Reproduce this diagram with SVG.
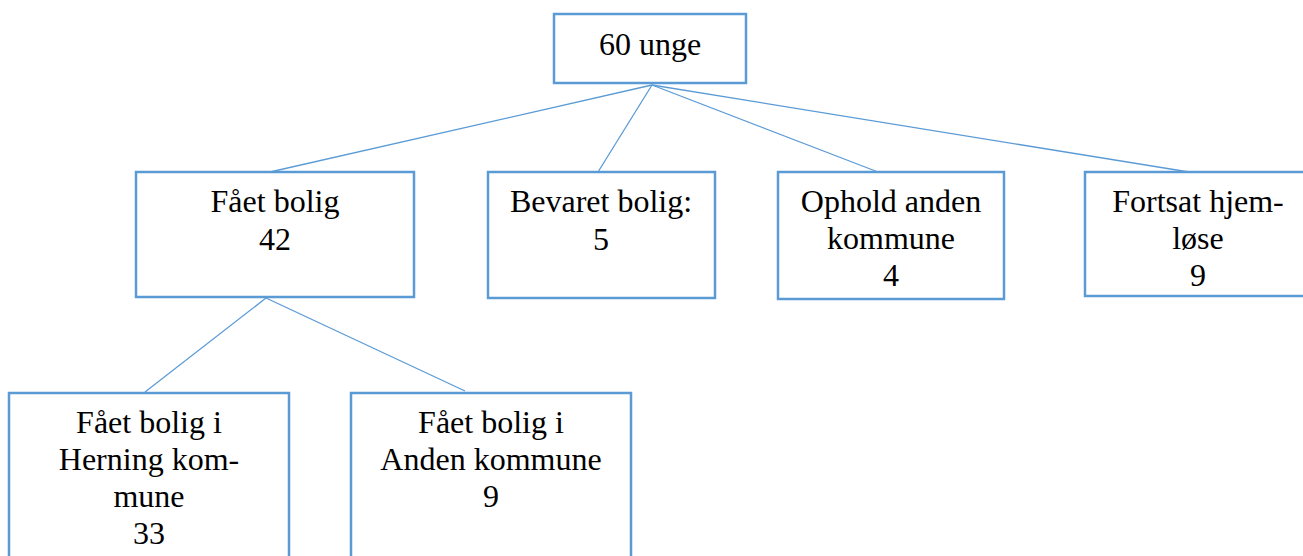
<svg xmlns="http://www.w3.org/2000/svg" width="1303" height="556" viewBox="0 0 1303 556">
<style>
.box{fill:#ffffff;stroke:#5B9BD5;stroke-width:2.5}
.t{font-family:"Liberation Serif","Times New Roman",serif;font-size:32px;fill:#000000;text-anchor:middle}
.c{stroke:#5B9BD5;stroke-width:1.3;fill:none}
</style>
<rect width="1303" height="556" fill="#ffffff"/>
<g id="connectors">
<line class="c" x1="652" y1="85" x2="270" y2="172"/>
<line class="c" x1="652" y1="85" x2="598" y2="172"/>
<line class="c" x1="652" y1="85" x2="878" y2="172"/>
<line class="c" x1="652" y1="85" x2="1189" y2="172"/>
<line class="c" x1="266" y1="298" x2="145" y2="392"/>
<line class="c" x1="266" y1="298" x2="465" y2="391"/>
</g>
<g id="n-root">
<rect class="box" x="554" y="14" width="192" height="69"/>
<text class="t" x="650" y="55">60 unge</text>
</g>
<g id="n-faaet">
<rect class="box" x="136" y="172" width="278" height="125"/>
<text class="t" x="275" y="212">Fået bolig</text>
<text class="t" x="275" y="250">42</text>
</g>
<g id="n-bevaret">
<rect class="box" x="488" y="172" width="227" height="126"/>
<text class="t" x="601" y="212">Bevaret bolig:</text>
<text class="t" x="601" y="250">5</text>
</g>
<g id="n-ophold">
<rect class="box" x="778" y="172" width="226" height="127"/>
<text class="t" x="891" y="212">Ophold anden</text>
<text class="t" x="891" y="249">kommune</text>
<text class="t" x="891" y="286">4</text>
</g>
<g id="n-fortsat">
<rect class="box" x="1085" y="172" width="226" height="124"/>
<text class="t" x="1198" y="212">Fortsat hjem-</text>
<text class="t" x="1198" y="249">løse</text>
<text class="t" x="1198" y="286">9</text>
</g>
<g id="n-herning">
<rect class="box" x="9" y="393" width="280" height="175"/>
<text class="t" x="149" y="433">Fået bolig i</text>
<text class="t" x="149" y="470">Herning kom-</text>
<text class="t" x="149" y="507">mune</text>
<text class="t" x="149" y="544">33</text>
</g>
<g id="n-anden">
<rect class="box" x="351" y="393" width="280" height="175"/>
<text class="t" x="491" y="433">Fået bolig i</text>
<text class="t" x="491" y="470">Anden kommune</text>
<text class="t" x="491" y="507">9</text>
</g>
</svg>
